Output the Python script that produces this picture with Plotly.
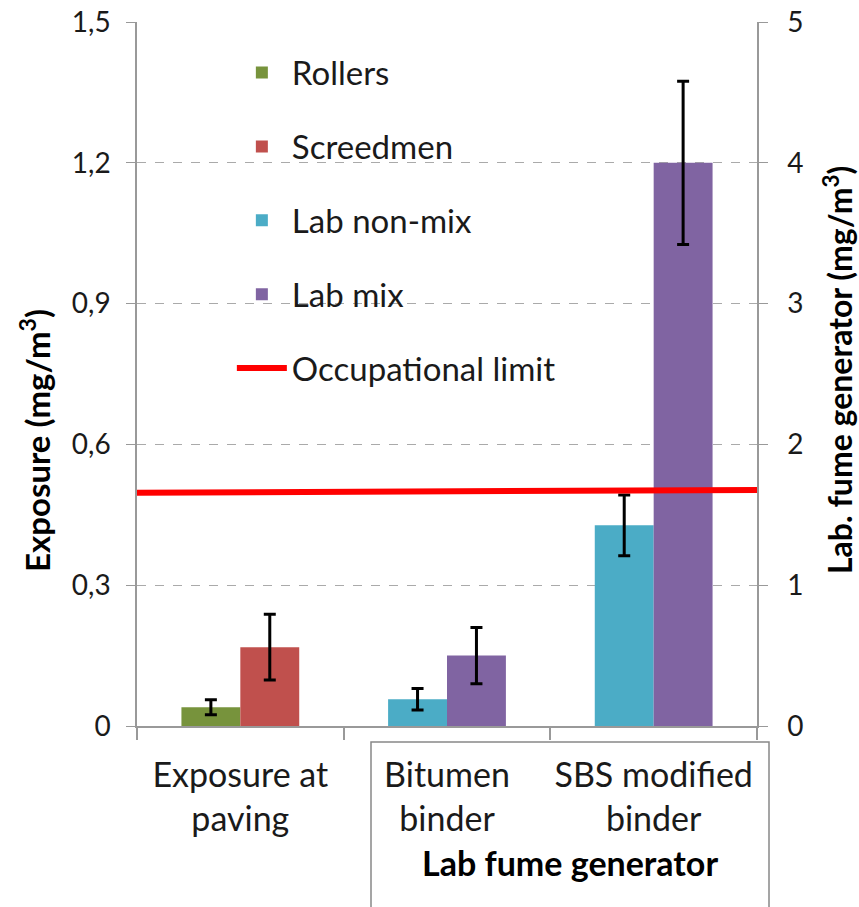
import plotly.graph_objects as go

categories = ["Exposure at<br>paving", "Bitumen<br>binder", "SBS modified<br>binder"]

rollers_val = [0.04]
rollers_err = [0.016]
screedmen_val = [0.168]
screedmen_err = [0.07]

lab_cats = categories[1:]
lab_nonmix_val = [0.19, 1.425]
lab_nonmix_err = [0.076, 0.215]
lab_mix_val = [0.50, 4.0]
lab_mix_err = [0.20, 0.58]

limit_x = [0, 1]
limit_y = [0.497, 0.503]

left_ticks = [0, 0.3, 0.6, 0.9, 1.2, 1.5]
left_ticktext = ["0", "0,3", "0,6", "0,9", "1,2", "1,5"]
right_ticks = [0, 1, 2, 3, 4, 5]

FONT = "Lato, 'Open Sans', sans-serif"
C_ROLL = "#77933C"
C_SCREED = "#C0504D"
C_NONMIX = "#4BACC6"
C_MIX = "#8064A2"

err_style = dict(type="data", color="black", thickness=3, width=6)

fig = go.Figure()
fig.add_trace(go.Bar(name="Rollers", x=categories[:1], y=rollers_val,
                     error_y=dict(array=rollers_err, **err_style),
                     marker=dict(color=C_ROLL, line=dict(width=0)),
                     offsetgroup="a", legendgroup="g1", xaxis="x", yaxis="y"))
fig.add_trace(go.Bar(name="Screedmen", x=categories[:1], y=screedmen_val,
                     error_y=dict(array=screedmen_err, **err_style),
                     marker=dict(color=C_SCREED, line=dict(width=0)),
                     offsetgroup="b", legendgroup="g2", xaxis="x", yaxis="y"))
fig.add_trace(go.Bar(name="Lab non-mix", x=lab_cats, y=lab_nonmix_val,
                     error_y=dict(array=lab_nonmix_err, **err_style),
                     marker=dict(color=C_NONMIX, line=dict(width=0)),
                     offsetgroup="a", legendgroup="g3", xaxis="x", yaxis="y2"))
fig.add_trace(go.Bar(name="Lab mix", x=lab_cats, y=lab_mix_val,
                     error_y=dict(array=lab_mix_err, **err_style),
                     marker=dict(color=C_MIX, line=dict(width=0)),
                     offsetgroup="b", legendgroup="g4", xaxis="x", yaxis="y2"))
fig.add_trace(go.Scatter(name="Occupational limit", x=limit_x, y=limit_y,
                         mode="lines", line=dict(color="#FF0000", width=6),
                         legendgroup="g5", xaxis="x2", yaxis="y"))

fig.update_layout(
    width=859, height=907,
    margin=dict(l=137, r=102, t=22, b=181, autoexpand=False),
    paper_bgcolor="white", plot_bgcolor="white",
    font=dict(family=FONT, size=33, color="#1a1a1a"),
    barmode="group", bargap=0.43, bargroupgap=0,
    showlegend=True,
    legend=dict(x=0.153, y=0.968, xanchor="left", yanchor="top",
                bgcolor="rgba(0,0,0,0)", font=dict(size=33),
                tracegroupgap=28, traceorder="grouped",
                itemwidth=50),
    xaxis=dict(type="category", categoryorder="array", categoryarray=categories,
               tickson="boundaries", ticks="outside", ticklen=12,
               tickcolor="#999", tickwidth=1.5, tickangle=0, automargin=False,
               showline=True, linecolor="#999", linewidth=1.5,
               showgrid=False, ticklabelstandoff=18, range=[-0.5, 2.5],
               tickfont=dict(size=34)),
    xaxis2=dict(overlaying="x", range=[0, 1], visible=False, fixedrange=True),
    yaxis=dict(range=[0, 1.5], tickvals=left_ticks, ticktext=left_ticktext,
               ticks="outside", ticklen=9, tickcolor="#999", automargin=False,
               showline=True, linecolor="#999", linewidth=1.5,
               showgrid=True, gridcolor="#aaaaaa", griddash="dash", gridwidth=1,
               zeroline=False, ticklabelstandoff=10, tickfont=dict(size=28)),
    yaxis2=dict(range=[0, 5], tickvals=right_ticks, overlaying="y", side="right",
                ticks="outside", ticklen=9, tickcolor="#999", automargin=False,
                showline=True, linecolor="#999", linewidth=1.5,
                showgrid=False, zeroline=False, ticklabelstandoff=14,
                tickfont=dict(size=28)),
)

fig.add_annotation(text="<b>Exposure (mg/m<sup>3</sup>)</b>", textangle=-90,
                   xref="paper", yref="paper", x=(35 - 137) / 620, y=(726 - 441) / 704,
                   xanchor="center", yanchor="middle", showarrow=False,
                   font=dict(size=33, color="black"))
fig.add_annotation(text="<b>Lab. fume generator (mg/m<sup>3</sup>)</b>", textangle=-90,
                   xref="paper", yref="paper", x=(838 - 137) / 620, y=(726 - 370) / 704,
                   xanchor="center", yanchor="middle", showarrow=False,
                   font=dict(size=32, color="black"))
fig.add_annotation(text="<b>Lab fume generator</b>",
                   xref="paper", yref="paper", x=(570 - 137) / 620, y=(726 - 862) / 704,
                   xanchor="center", yanchor="middle", showarrow=False,
                   font=dict(size=34, color="black"))
fig.add_shape(type="path", xref="paper", yref="paper",
              path="M {a},{b} L {a},{c} L {d},{c} L {d},{b}".format(
                  a=(371 - 137) / 620, b=-0.3, c=(726 - 742) / 704, d=(769 - 137) / 620),
              line=dict(color="#888", width=1.5))

fig.write_html("out.html")
